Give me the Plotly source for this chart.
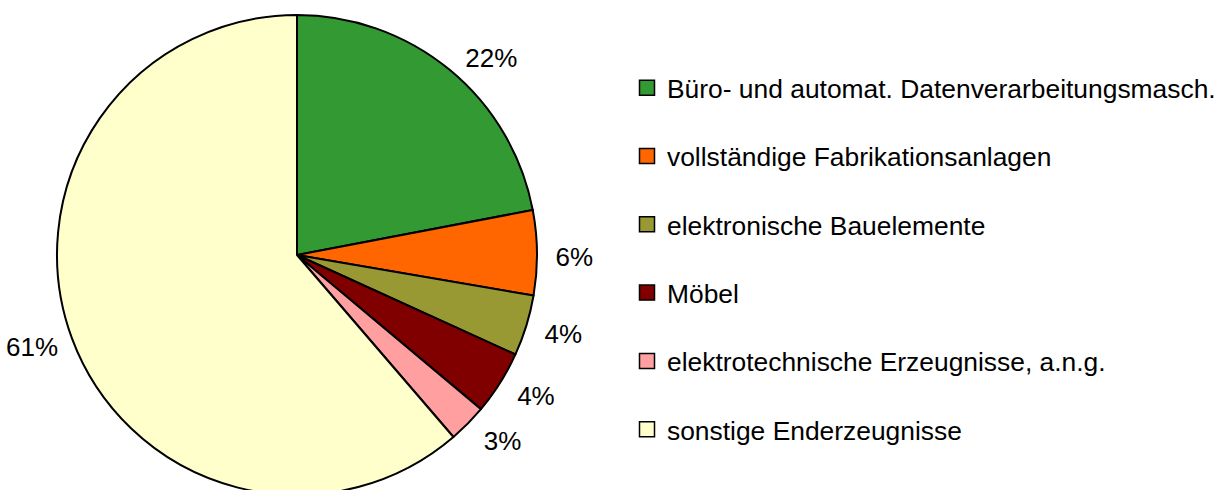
import plotly.graph_objects as go

categories = [
    "Büro- und automat. Datenverarbeitungsmasch.",
    "vollständige Fabrikationsanlagen",
    "elektronische Bauelemente",
    "Möbel",
    "elektrotechnische Erzeugnisse, a.n.g.",
    "sonstige Enderzeugnisse",
]
values = [22.0, 5.7, 4.1, 4.3, 2.6, 61.3]
colors = ["#339933", "#FF6600", "#999933", "#800000", "#FF9F9F", "#FFFFCC"]

W, H = 1231, 520
FONT = "Liberation Sans, Arial, sans-serif"
CX, CY, R = 297, 255, 240      # pie centre / radius in pixels
LX, LY, RL = 299, 259, 249     # centre / radius used for placing the outside labels


def dom(cx, cy, r):
    cyp = 1 - cy / H
    return dict(x=[(cx - r) / W, (cx + r) / W], y=[cyp - r / H, cyp + r / H])


fig = go.Figure()
fig.add_trace(go.Pie(
    labels=categories, values=values, sort=False, direction="clockwise", rotation=0,
    marker=dict(colors=colors, line=dict(color="black", width=2)),
    textinfo="none", showlegend=False, hoverinfo="label+percent",
    domain=dom(CX, CY, R),
))
# transparent companion pie, same angles, used only to place the percentage labels
fig.add_trace(go.Pie(
    labels=categories, values=values, sort=False, direction="clockwise", rotation=0,
    marker=dict(colors=["rgba(0,0,0,0)"] * len(values), line=dict(width=0)),
    textposition="outside", texttemplate="%{percent:.0%}",
    textfont=dict(family=FONT, size=26, color="black"),
    showlegend=False, hoverinfo="skip",
    domain=dom(LX, LY, RL),
))
for i, (c, col) in enumerate(zip(categories, colors)):
    fig.add_trace(go.Scatter(
        x=[None], y=[None], mode="markers", name=c, legendgroup=f"g{i}",
        marker=dict(symbol="square", size=15, color=col, line=dict(color="black", width=1.5)),
    ))

fig.update_layout(
    width=W, height=H, margin=dict(l=0, r=0, t=0, b=0, autoexpand=False),
    paper_bgcolor="white", plot_bgcolor="white",
    xaxis=dict(visible=False), yaxis=dict(visible=False),
    legend=dict(x=627 / W, y=1 - 258.5 / H, xanchor="left", yanchor="middle",
                font=dict(family=FONT, size=26.4, color="black"),
                tracegroupgap=31, traceorder="grouped", itemclick=False),
    font=dict(family=FONT),
)
fig.write_html("out.html", config={"displayModeBar": False},
               post_script="document.body.style.margin='0';document.body.style.overflow='hidden';")
